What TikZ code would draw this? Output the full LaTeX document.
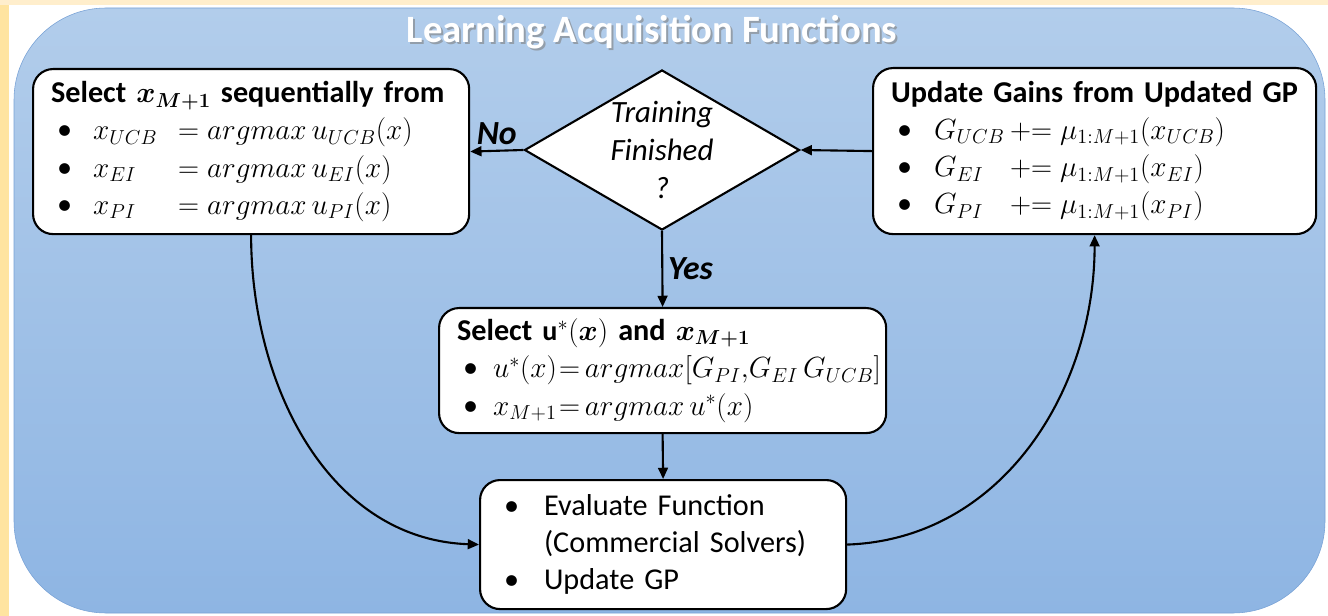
\documentclass[tikz,border=0pt]{standalone}
\usepackage{amsmath,bm}
\usepackage{fontspec}
\setmainfont{Carlito}
\usetikzlibrary{shapes.geometric,arrows.meta}

\definecolor{paneltop}{RGB}{178,205,235}
\definecolor{panelbot}{RGB}{142,181,227}
\definecolor{paneledge}{RGB}{120,162,214}
\definecolor{sidestrip}{RGB}{255,228,160}
\definecolor{topstrip}{RGB}{255,238,204}

\newcommand{\bul}[1]{\makebox[#1][l]{\hspace{0.15cm}\textbullet}}
\newcommand{\mth}[1]{{\fontsize{20}{26}\selectfont$#1$}}
\newcommand{\lhs}[2]{\makebox[#1][l]{\mth{#2}}}

\begin{document}
\begin{tikzpicture}[x=0.025cm,y=-0.025cm,>={Triangle[length=8pt,width=7pt]}]
  \useasboundingbox (0,0) rectangle (1328,616);
  \fill[white] (0,0) rectangle (1328,616);
  \fill[sidestrip] (0,0) rectangle (9,616);
  \fill[topstrip] (0,0) rectangle (1328,5);
  \shade[top color=paneltop,bottom color=panelbot,draw=paneledge,rounded corners=2.3cm]
    (14,8) rectangle (1325,613);

  \node[font=\fontsize{27.5}{30}\selectfont\bfseries,text=black!50,opacity=.6] (titleshade) at (654,34) {Learning Acquisition Functions};
  \node[font=\fontsize{27.5}{30}\selectfont\bfseries,text=white] (title) at (652,32) {Learning Acquisition Functions};

  \begin{scope}[every node/.style={rectangle,rounded corners=0.5cm,draw,fill=white,line width=1.5pt,anchor=north west,align=left,inner xsep=0.45cm,inner ysep=0pt,font=\fontsize{21.5}{26.5}\selectfont}]
    \node[text width=10cm,minimum height=4.125cm] (select) at (32,68) {\textbf{Select \mth{\bm{x_{M+1}}} sequentially from}\\
      \bul{1.05cm}\lhs{2.125cm}{x_{UCB}}\mth{=argmax\,u_{UCB}(x)}\\
      \bul{1.05cm}\lhs{2.125cm}{x_{EI}}\mth{=argmax\,u_{EI}(x)}\\
      \bul{1.05cm}\lhs{2.125cm}{x_{PI}}\mth{=argmax\,u_{PI}(x)}};
    \node[text width=10.175cm,minimum height=4.15cm] (gains) at (872,67) {\textbf{Update Gains from Updated GP}\\
      \bul{1.075cm}\lhs{1.9cm}{G_{UCB}}\mth{\mathrel{+}\mathrel{=}\mu_{1:M+1}(x_{UCB})}\\
      \bul{1.075cm}\lhs{1.9cm}{G_{EI}}\mth{\mathrel{+}\mathrel{=}\mu_{1:M+1}(x_{EI})}\\
      \bul{1.075cm}\lhs{1.9cm}{G_{PI}}\mth{\mathrel{+}\mathrel{=}\mu_{1:M+1}(x_{PI})}};
    \node[text width=10.275cm,minimum height=3.125cm] (pick) at (438,307) {\textbf{Select \mth{\mathbf{u}^{*}(\bm{x})} and \mth{\bm{x_{M+1}}}}\\
      \mbox{\bul{0.9cm}\lhs{1.65cm}{u^{*}(x)}\mth{{=}\,argmax[G_{PI}{,}G_{EI}\,G_{UCB}]}}\\
      \bul{0.9cm}\lhs{1.65cm}{x_{M+1}}\mth{{=}\,argmax\,u^{*}(x)}};
    \node[text width=8.25cm,minimum height=3.225cm] (eval) at (479,479) {\bul{1.15cm}Evaluate Function\\
      \hspace*{1.15cm}(Commercial Solvers)\\
      \bul{1.15cm}Update GP};
  \end{scope}

  \node[diamond,draw,fill=white,line width=1.5pt,minimum width=6.875cm,minimum height=4cm,inner sep=0pt] (check) at (662,150) {};
  \node[font=\fontsize{22}{27}\selectfont\itshape,align=center] (asktext) at (check) {Training\\Finished\\?};

  \begin{scope}[line width=1.5pt,->,every node/.style={font=\fontsize{24}{28}\selectfont\bfseries\itshape}]
    \draw (check.west) -- (select.east) node[midway,above] (no) {No};
    \draw (gains.west) -- (check.east);
    \draw (check.south) -- (pick.north) node[midway,right] (yes) {Yes};
    \draw (pick.south) -- (eval.north);
    \draw (select.south) to[out=-90,in=178] (eval.west);
    \draw (eval.east) to[out=2,in=-90] (gains.south);
  \end{scope}
\end{tikzpicture}
\end{document}
